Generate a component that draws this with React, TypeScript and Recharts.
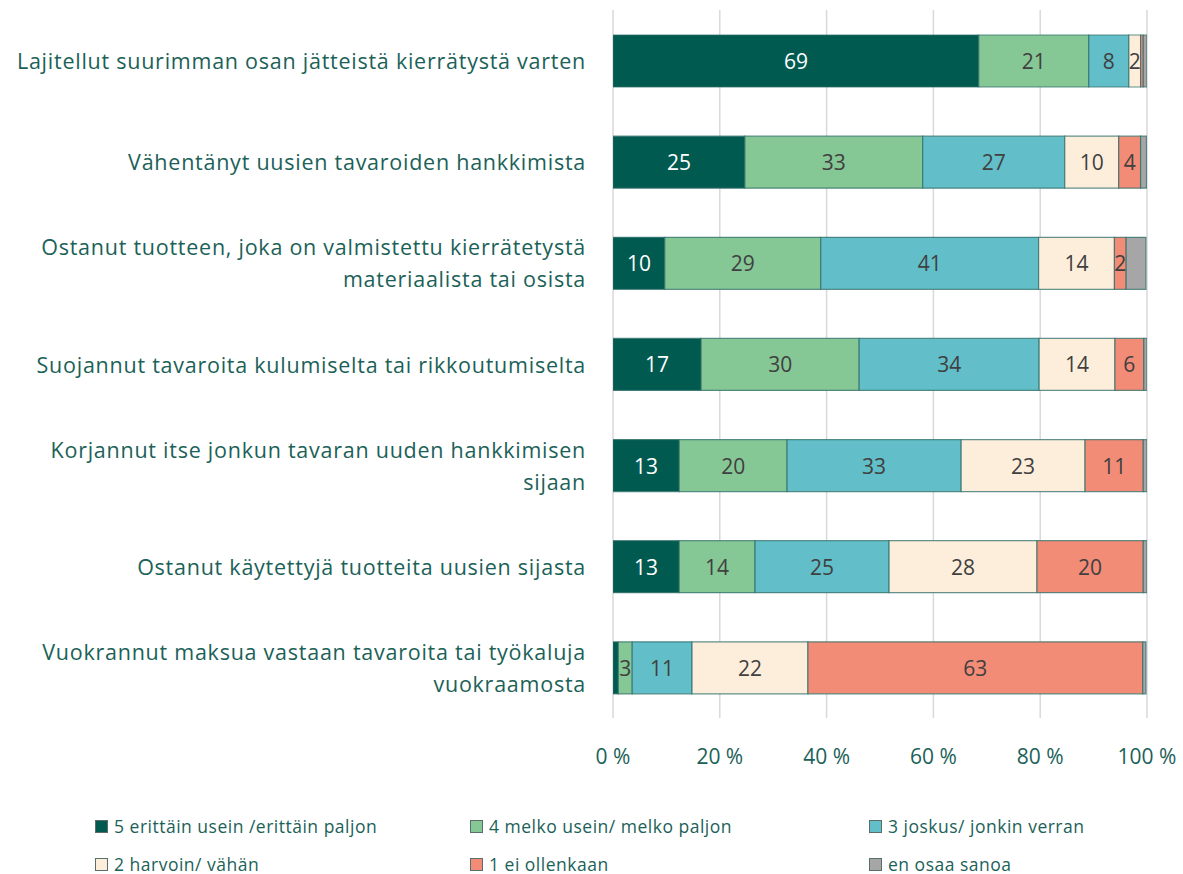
import React from "react";
import { BarChart, Bar, XAxis, YAxis, CartesianGrid, LabelList } from "recharts";

const categoryLines: string[][] = [
  ["Lajitellut suurimman osan jätteistä kierrätystä varten"],
  ["Vähentänyt uusien tavaroiden hankkimista"],
  ["Ostanut tuotteen, joka on valmistettu kierrätetystä", "materiaalista tai osista"],
  ["Suojannut tavaroita kulumiselta tai rikkoutumiselta"],
  ["Korjannut itse jonkun tavaran uuden hankkimisen", "sijaan"],
  ["Ostanut käytettyjä tuotteita uusien sijasta"],
  ["Vuokrannut maksua vastaan tavaroita tai työkaluja", "vuokraamosta"],
];
const categories = categoryLines.map((l) => l.join(" "));

const seriesNames = [
  "5 erittäin usein /erittäin paljon",
  "4 melko usein/ melko paljon",
  "3 joskus/ jonkin verran",
  "2 harvoin/ vähän",
  "1 ei ollenkaan",
  "en osaa sanoa",
];
const s5 = [68.5, 24.7, 9.7, 16.5, 12.4, 12.4, 1.0];
const s4 = [20.6, 33.3, 29.2, 29.6, 20.2, 14.2, 2.6];
const s3 = [7.5, 26.6, 40.8, 33.7, 32.6, 25.1, 11.2];
const s2 = [2.2, 10.1, 14.2, 14.2, 23.2, 27.7, 21.7];
const s1 = [0.5, 4.1, 2.2, 5.4, 10.9, 19.9, 62.7];
const s0 = [0.7, 1.1, 3.7, 0.6, 0.7, 0.7, 0.6];
const labels5 = ["69", "25", "10", "17", "13", "13", ""];
const labels4 = ["21", "33", "29", "30", "20", "14", "3"];
const labels3 = ["8", "27", "41", "34", "33", "25", "11"];
const labels2 = ["2", "10", "14", "14", "23", "28", "22"];
const labels1 = ["", "4", "2", "6", "11", "20", "63"];
const labels0 = ["", "", "", "", "", "", ""];
const xTicks = [0, 20, 40, 60, 80, 100];

const keys = ["s5", "s4", "s3", "s2", "s1", "s0"];
const seriesValues = [s5, s4, s3, s2, s1, s0];
const seriesLabels = [labels5, labels4, labels3, labels2, labels1, labels0];
const colors = ["#005a50", "#86c796", "#62bfc9", "#fdeedc", "#f28c76", "#a6a6a6"];
const labelColors = ["#ffffff", "#404040", "#404040", "#404040", "#404040", "#404040"];

const data = categories.map((c, i) => {
  const row: any = { name: c, idx: i };
  keys.forEach((k, j) => {
    row[k] = seriesValues[j][i];
    row[k + "_label"] = seriesLabels[j][i];
  });
  return row;
});

const TEAL = "#1b6158";
const FONT = "'Open Sans', 'Noto Sans', sans-serif";

const YTick = (props: any) => {
  const { y, payload } = props;
  const idx = categories.indexOf(payload.value);
  const lines = categoryLines[idx] || [payload.value];
  const lh = 32;
  const start = y - ((lines.length - 1) * lh) / 2;
  return (
    <g>
      {lines.map((l, i) => (
        <text
          key={i}
          x={586}
          y={start + i * lh}
          textAnchor="end"
          dominantBaseline="central"
          fill={TEAL}
          fontSize={21.5}
          letterSpacing={0.75}
          fontFamily={FONT}
        >
          {l}
        </text>
      ))}
    </g>
  );
};

const makeLabel = (j: number) => (props: any) => {
  const { x, y, width, height, value } = props;
  if (!value) return null;
  return (
    <text
      x={x + width / 2}
      y={y + height / 2}
      textAnchor="middle"
      dominantBaseline="central"
      fill={labelColors[j]}
      fontSize={21}
      fontFamily={FONT}
    >
      {value}
    </text>
  );
};

export default function App() {
  return (
    <div style={{ position: "absolute", left: 0, top: 0, width: 1183, height: 874, background: "#fff" }}>
      <BarChart
        width={1183}
        height={874}
        layout="vertical"
        data={data}
        margin={{ top: 10, right: 36, left: 0, bottom: 96 }}
        barSize={52}
      >
        <CartesianGrid horizontal={false} vertical={true} stroke="#d9d9d9" strokeWidth={1.5} />
        <XAxis
          type="number"
          domain={[0, 100]}
          ticks={xTicks}
          tickFormatter={(v: number) => `${v} %`}
          axisLine={false}
          tickLine={false}
          height={60}
          tickMargin={25}
          tick={{ fill: TEAL, fontSize: 21, fontFamily: FONT }}
          interval={0}
          allowDataOverflow
        />
        <YAxis
          type="category"
          dataKey="name"
          width={613}
          axisLine={false}
          tickLine={false}
          tick={<YTick />}
          interval={0}
        />
        {keys.map((k, j) => (
          <Bar
            key={k}
            dataKey={k}
            stackId="a"
            fill={colors[j]}
            stroke="#2f6e68"
            strokeOpacity={0.75}
            strokeWidth={1.2}
            isAnimationActive={false}
          >
            <LabelList dataKey={k + "_label"} content={makeLabel(j)} />
          </Bar>
        ))}
      </BarChart>
      {seriesNames.map((n, j) => {
        const col = j % 3;
        const row = Math.floor(j / 3);
        const lefts = [95, 470, 869];
        return (
          <div
            key={n}
            style={{
              position: "absolute",
              left: lefts[col],
              top: row === 0 ? 814 : 852,
              display: "flex",
              alignItems: "center",
              fontFamily: FONT,
              fontSize: 17.5,
              letterSpacing: 0.5,
              color: TEAL,
              whiteSpace: "nowrap",
              height: 24,
            }}
          >
            <span
              style={{
                display: "inline-block",
                width: 11,
                height: 11,
                background: colors[j],
                border: "1px solid #5a6e6c",
                marginRight: 6,
              }}
            />
            {n}
          </div>
        );
      })}
    </div>
  );
}
